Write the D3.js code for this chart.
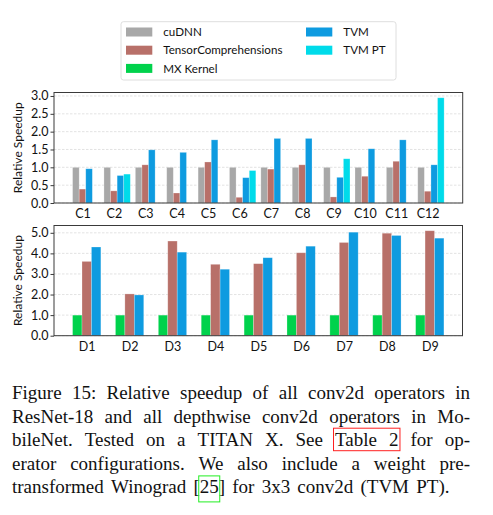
<!DOCTYPE html>
<html><head><meta charset="utf-8">
<script src="https://cdn.jsdelivr.net/npm/d3@7"></script>
<style>
html,body{margin:0;padding:0;background:#fff;}
svg{display:block;}
</style></head>
<body>
<svg id="c" width="493" height="515"></svg>
<script>
// ---- data ----
const convCats = ["C1","C2","C3","C4","C5","C6","C7","C8","C9","C10","C11","C12"];
const convCudnn = [1,1,1,1,1,1,1,1,1,1,1,1];
const convTC    = [0.39,0.34,1.07,0.28,1.15,0.16,0.95,1.07,0.17,0.75,1.17,0.33];
const convTVM   = [0.96,0.77,1.49,1.42,1.77,0.71,1.81,1.81,0.72,1.52,1.77,1.07];
const convTVMPT = [null,0.81,null,null,null,0.91,null,null,1.24,null,null,2.95];

const dwCats = ["D1","D2","D3","D4","D5","D6","D7","D8","D9"];
const dwMX   = [1,1,1,1,1,1,1,1,1];
const dwTC   = [3.61,2.03,4.60,3.47,3.50,4.03,4.53,4.98,5.10];
const dwTVM  = [4.31,1.98,4.06,3.23,3.79,4.35,5.03,4.87,4.74];

const convTicks = [0,0.5,1,1.5,2,2.5,3];
const dwTicks = [0,1,2,3,4,5];

const legendNames = ["cuDNN","TensorComprehensions","MX Kernel","TVM","TVM PT"];
const colors = {cuDNN:"#a8a8a8", TensorComprehensions:"#b87069", "MX Kernel":"#00d24c", TVM:"#0e9be0", "TVM PT":"#00dbea"};

const captionLines = [
  "Figure 15: Relative speedup of all conv2d operators in",
  "ResNet-18 and all depthwise conv2d operators in Mo-",
  "bileNet.  Tested on a TITAN X. See Table 2 for op-",
  "erator configurations.  We also include a weight pre-",
  "transformed Winograd [25] for 3x3 conv2d (TVM PT)."
];

// ---- drawing ----
const svg = d3.select("#c");
const SANS = "Lato, 'DejaVu Sans', sans-serif";

function panel(opts){
  const {cats, series, w, x0, x1, y0, y1, ticks, ymax} = opts;
  const n = cats.length;
  const offs = series.map((s,i)=> i - 1);
  const dmin = -1.5*w, dmax = (n-1) + (offs[offs.length-1]+0.5)*w;
  const pad = 0.05*(dmax-dmin);
  const x = d3.scaleLinear().domain([dmin-pad, dmax+pad]).range([x0,x1]);
  const y = d3.scaleLinear().domain([0, ymax*1.05]).range([y1,y0]);
  const g = svg.append("g");
  // grid
  g.selectAll("line.grid").data(ticks).join("line")
    .attr("x1",x0).attr("x2",x1).attr("y1",d=>y(d)).attr("y2",d=>y(d))
    .attr("stroke","#dcdcdc").attr("stroke-width",0.8).attr("stroke-dasharray","2.5,1.5");
  // bars
  series.forEach((s,si)=>{
    const data = s.values.map((v,i)=>({v,i})).filter(d=>d.v!=null);
    g.selectAll(null).data(data).join("rect")
      .attr("x", d=> x(d.i + offs[si]*w - w/2))
      .attr("width", d=> x(d.i + offs[si]*w + w/2) - x(d.i + offs[si]*w - w/2))
      .attr("y", d=> y(d.v))
      .attr("height", d=> y(0)-y(d.v))
      .attr("fill", colors[s.name])
      .attr("stroke","#fff").attr("stroke-opacity",0.35).attr("stroke-width",0.7);
  });
  // frame
  g.append("rect").attr("x",x0).attr("y",y0).attr("width",x1-x0).attr("height",y1-y0)
    .attr("fill","none").attr("stroke","#3a3a3a").attr("stroke-width",1);
  // y axis
  const ya = d3.axisLeft(y).tickValues(ticks).tickFormat(d3.format(".1f")).tickSize(3.5).tickPadding(2);
  const yg = g.append("g").attr("transform",`translate(${x0},0)`).call(ya);
  yg.select(".domain").remove();
  yg.selectAll(".tick line").attr("stroke","#3a3a3a");
  yg.selectAll("text").attr("font-family",SANS).attr("font-size",12.5).attr("fill","#111");
  // x axis
  const xa = d3.axisBottom(x).tickValues(d3.range(n)).tickFormat(i=>cats[i]).tickSize(0).tickPadding(6);
  const xg = g.append("g").attr("transform",`translate(0,${y1})`).call(xa);
  xg.select(".domain").remove();
  xg.selectAll("text").attr("font-family",SANS).attr("font-size",12.5).attr("fill","#111");
  // y label
  g.append("text").attr("transform",`translate(${x0-32},${(y0+y1)/2}) rotate(-90)`)
    .attr("text-anchor","middle").attr("font-family",SANS).attr("font-size",12).attr("fill","#111")
    .text("Relative Speedup");
}

panel({cats:convCats, series:[
  {name:"cuDNN", values:convCudnn},
  {name:"TensorComprehensions", values:convTC},
  {name:"TVM", values:convTVM},
  {name:"TVM PT", values:convTVMPT}],
  w:0.21, x0:54, x1:462.7, y0:92.5, y1:203, ticks:convTicks,
  ymax: d3.max([...convTC,...convTVM,...convTVMPT.filter(v=>v!=null)])});

panel({cats:dwCats, series:[
  {name:"MX Kernel", values:dwMX},
  {name:"TensorComprehensions", values:dwTC},
  {name:"TVM", values:dwTVM}],
  w:0.22, x0:54, x1:462.5, y0:225.5, y1:335.7, ticks:dwTicks,
  ymax: d3.max([...dwTC,...dwTVM])});

// legend
const lg = svg.append("g");
lg.append("rect").attr("x",121).attr("y",21.7).attr("width",275).attr("height",58.3).attr("rx",2.5)
  .attr("fill","#fff").attr("stroke","#dadada").attr("stroke-width",0.9);
const legPos = [[0,0],[0,1],[0,2],[1,0],[1,1]];
legendNames.forEach((nm,i)=>{
  const [c,r] = legPos[i];
  const px = c===0 ? 126 : 306, tx = c===0 ? 163.3 : 343.3;
  const cy = 32 + r*18.2;
  lg.append("rect").attr("x",px).attr("y",cy-4.5).attr("width",26.3).attr("height",9).attr("fill",colors[nm]);
  lg.append("text").attr("x",tx).attr("y",cy).attr("dy","0.36em").attr("font-family",SANS).attr("font-size",11.6)
    .attr("fill","#111").text(nm);
});

// caption (justified)
const SERIF = "'Liberation Serif','Times New Roman',serif";
const capX0 = 12, capX1 = 470, capY0 = 399, capDy = 23.6;
captionLines.forEach((line, li)=>{
  const words = line.split(/ +/);
  const yb = capY0 + li*capDy;
  const els = words.map(wd => svg.append("text").attr("y",yb).attr("font-family",SERIF).attr("font-size",19)
    .attr("fill","#111").text(wd));
  const widths = els.map(e=>e.node().getComputedTextLength());
  const total = d3.sum(widths);
  const last = li === captionLines.length-1;
  const gap = last ? 7.2 : Math.max(2, (capX1 - capX0 - total)/(words.length-1));
  let cx = capX0;
  els.forEach((e,i)=>{
    e.attr("x",cx);
    const wd = words[i];
    if (wd === "Table") {
      const w2 = widths[i+1];
      svg.append("rect").attr("x",cx-1.5).attr("y",yb-18).attr("width",widths[i]+gap+w2+3).attr("height",22.5)
        .attr("fill","none").attr("stroke","#ff2020").attr("stroke-width",1);
    }
    if (wd === "[25]") {
      const node = e.node();
      const sx = node.getStartPositionOfChar(1).x;
      const sw = node.getSubStringLength(1,2);
      svg.append("rect").attr("x",sx-1).attr("y",yb-17.5).attr("width",sw+2).attr("height",26)
        .attr("fill","none").attr("stroke","#22ee22").attr("stroke-width",1);
    }
    cx += widths[i] + gap;
  });
});
</script>
</body></html>
